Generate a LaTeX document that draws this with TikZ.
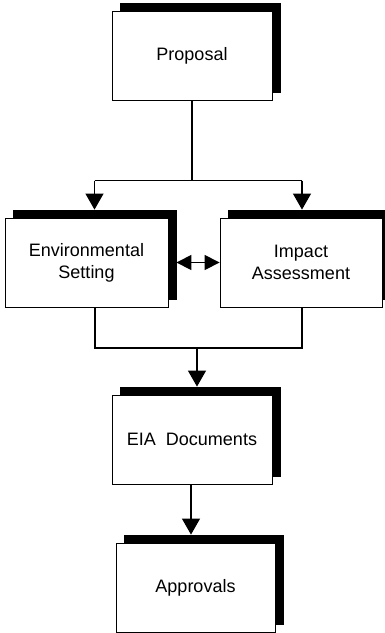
\documentclass[tikz,border=0pt]{standalone}
\usepackage{fontspec}
\setmainfont{Liberation Sans}
\usetikzlibrary{arrows.meta,calc,shadows}
\begin{document}
\begin{tikzpicture}[x=1pt,y=-1pt,
  stagebox/.style={draw=black, line width=0.8pt, fill=white,
    minimum width=#1, minimum height=89pt, inner sep=0pt, align=center,
    font=\fontsize{18}{22}\selectfont,
    copy shadow={shadow xshift=8pt, shadow yshift=8pt, fill=black, draw=black}},
  stagebox/.default=160pt,
  link/.style={line width=1.2pt},
  flow/.style={link, -{Triangle[length=16pt,width=18pt]}},
  both/.style={link, {Triangle[length=15pt,width=15pt]}-{Triangle[length=15pt,width=15pt]}}]
\useasboundingbox (0,0) rectangle (384,633);

% stages
\node[stagebox] (prop) at (192,56) {Proposal};
\node[stagebox=163pt] (env) at (86.5,262.5) {Environmental\\Setting};
\node[stagebox=162pt] (imp) at (301,262.5) {Impact\\Assessment};
\node[stagebox] (eia) at (192,439.5) {EIA\ \ Documents};
\node[stagebox=159pt] (appr) at (195.5,587.5) {Approvals};

% split below the proposal
\coordinate (split) at (192,180.5);
\coordinate (splitL) at (94.5,180.5);
\coordinate (splitR) at (302,180.5);
\draw[link] (prop.south) -- (split);
\draw[link] (splitL) -- (splitR);
\draw[flow] (splitL) -- ($(env.north -| splitL)+(0,-8)$);
\draw[flow] (splitR) -- ($(imp.north -| splitR)+(0,-8)$);

% exchange between setting and assessment
\draw[both] ($(env.east)+(8,0)$) -- (imp.west);

% merge into the documents
\coordinate (mergeL) at (95,348);
\coordinate (mergeR) at (302,348);
\coordinate (merge) at (197,348);
\draw[link] (env.south -| mergeL) -- (mergeL) -- (mergeR) -- (imp.south -| mergeR);
\draw[flow] (merge) -- ($(eia.north -| merge)+(0,-8)$);

% documents to approvals
\coordinate (down) at (191,484);
\draw[flow] (down) -- ($(appr.north -| down)+(0,-8)$);
\end{tikzpicture}
\end{document}
